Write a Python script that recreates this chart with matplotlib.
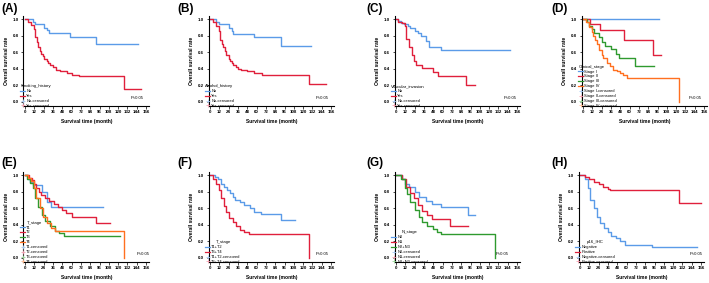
import numpy as np
import matplotlib
matplotlib.use("Agg")
import matplotlib.pyplot as plt
from matplotlib.lines import Line2D

plt.rcParams['font.family'] = ['Liberation Sans', 'DejaVu Sans']

# Kaplan-Meier step curves (time in months, survival rate)
# (A) Smoking_history
a_no_t = [0, 10, 13, 24, 28, 31, 58, 92, 146]
a_no_s = [1.0, 0.97, 0.94, 0.90, 0.87, 0.83, 0.78, 0.70, 0.70]
a_yes_t = [0, 4, 8, 11, 12.5, 15, 17, 19, 21, 23, 25, 28, 30, 32, 36, 40, 45, 54, 60, 69, 128, 150]
a_yes_s = [1.0, 0.97, 0.93, 0.88, 0.78, 0.72, 0.67, 0.62, 0.58, 0.55, 0.52, 0.49, 0.47, 0.45,
           0.42, 0.39, 0.37, 0.35, 0.33, 0.31, 0.155, 0.155]

# (B) Alcohol_history
b_no_t = [0, 8, 12, 25, 28, 30, 57, 92, 130]
b_no_s = [1.0, 0.97, 0.94, 0.90, 0.86, 0.82, 0.78, 0.68, 0.68]
b_yes_t = [0, 4, 8, 11, 13, 15, 17, 19, 21, 24, 26, 28, 30, 33, 36, 40, 47, 56, 67, 128, 150]
b_yes_s = [1.0, 0.97, 0.92, 0.86, 0.75, 0.70, 0.66, 0.62, 0.57, 0.52, 0.49, 0.47, 0.45, 0.42,
           0.40, 0.39, 0.37, 0.35, 0.33, 0.22, 0.22]

# (C) Vascular_invasion
c_no_t = [0, 3, 7, 10, 15, 18, 24, 28, 32, 38, 42, 58, 147]
c_no_s = [1.0, 0.98, 0.96, 0.94, 0.92, 0.89, 0.86, 0.83, 0.80, 0.74, 0.67, 0.63, 0.63]
c_yes_t = [0, 3, 8, 11, 13, 17, 20, 23, 26, 33, 47, 54, 90, 102]
c_yes_s = [1.0, 0.97, 0.95, 0.92, 0.76, 0.66, 0.57, 0.50, 0.45, 0.41, 0.36, 0.31, 0.21, 0.21]

# (D) Clinical_stage
d1_t = [0, 98]
d1_s = [1.0, 1.0]
d2_t = [0, 9, 22, 53, 90, 100]
d2_s = [1.0, 0.94, 0.87, 0.75, 0.57, 0.57]
d3_t = [0, 5, 8, 12, 14, 20, 24, 28, 36, 42, 46, 67, 92]
d3_s = [1.0, 0.97, 0.92, 0.88, 0.83, 0.78, 0.73, 0.68, 0.64, 0.58, 0.53, 0.44, 0.44]
d4_t = [0, 4, 8, 11, 13, 15, 17.5, 21, 24, 26, 31, 35, 39, 44, 48, 52, 57, 124, 124]
d4_s = [1.0, 0.97, 0.91, 0.85, 0.80, 0.75, 0.70, 0.63, 0.57, 0.53, 0.47, 0.43, 0.39, 0.37,
        0.35, 0.32, 0.29, 0.0, 0.0]

# (E) T_stage
e1_t = [0, 4, 6, 10, 22, 28, 33, 100]
e1_s = [1.0, 0.96, 0.92, 0.88, 0.80, 0.68, 0.62, 0.62]
e2_t = [0, 5, 9, 11, 14, 18, 21, 26, 31, 37, 43, 48, 53, 60, 91, 110]
e2_s = [1.0, 0.97, 0.94, 0.90, 0.85, 0.80, 0.76, 0.72, 0.69, 0.65, 0.62, 0.58, 0.54, 0.50, 0.42, 0.42]
e3_t = [0, 3, 7, 10, 13, 17, 22, 26, 32, 38, 44, 50, 123]
e3_s = [1.0, 0.96, 0.91, 0.85, 0.72, 0.62, 0.52, 0.45, 0.38, 0.33, 0.30, 0.27, 0.27]
e4_t = [0, 4, 8, 11, 14, 19, 23, 28, 33, 38, 127, 127]
e4_s = [1.0, 0.97, 0.93, 0.85, 0.72, 0.60, 0.50, 0.42, 0.36, 0.32, 0.0, 0.0]

# (F) T_stage grouped
f1_t = [0, 6, 10, 14, 18, 22, 26, 29, 32, 38, 44, 51, 56, 66, 91, 110]
f1_s = [1.0, 0.98, 0.95, 0.90, 0.86, 0.82, 0.78, 0.74, 0.70, 0.68, 0.64, 0.61, 0.56, 0.53, 0.46, 0.46]
f2_t = [0, 4, 8, 11, 14, 18, 21, 25, 29, 33, 39, 44, 50, 128, 128]
f2_s = [1.0, 0.96, 0.90, 0.82, 0.72, 0.63, 0.55, 0.48, 0.43, 0.38, 0.34, 0.31, 0.29, 0.0, 0.0]

# (G) N_stage
g0_t = [0, 8, 12, 17, 24, 30, 38, 46, 58, 93, 102]
g0_s = [1.0, 0.96, 0.90, 0.86, 0.80, 0.74, 0.69, 0.65, 0.62, 0.52, 0.52]
g1_t = [0, 8, 13, 18, 23, 28, 33, 40, 46, 70, 93]
g1_s = [1.0, 0.95, 0.86, 0.78, 0.72, 0.64, 0.57, 0.52, 0.47, 0.38, 0.38]
g2_t = [0, 7, 12, 14, 18, 24, 29, 34, 40, 48, 53, 58, 127, 127]
g2_s = [1.0, 0.95, 0.85, 0.77, 0.68, 0.58, 0.50, 0.44, 0.39, 0.35, 0.31, 0.29, 0.0, 0.0]

# (H) p16_IHC
h_neg_t = [0, 6, 10, 13, 18, 22, 26, 31, 36, 40, 46, 52, 58, 93, 151]
h_neg_s = [1.0, 0.95, 0.85, 0.70, 0.60, 0.50, 0.42, 0.36, 0.31, 0.27, 0.24, 0.20, 0.16, 0.13, 0.13]
h_pos_t = [0, 6, 12, 18, 24, 30, 36, 38, 128, 156]
h_pos_s = [1.0, 0.98, 0.95, 0.92, 0.89, 0.86, 0.84, 0.82, 0.66, 0.66]

x_ticks = list(range(0, 157, 12))
y_ticks = [0.0, 0.2, 0.4, 0.6, 0.8, 1.0]

BLUE, RED, GREEN, ORANGE = '#5b9be8', '#e0203c', '#2f9a2f', '#ff7020'
LIGHT = {BLUE: '#a9c9f2', RED: '#f2a0b0', GREEN: '#98d498', ORANGE: '#ffbc94'}

W, H = 709, 283
fig = plt.figure(figsize=(W / 100, H / 100), dpi=100)


def make_axes(left_px, bottom_px):
    # pixel box -> figure fraction
    return fig.add_axes([left_px / W, (H - bottom_px) / H, 125.7 / W, 90 / H])


def panel(ax, letter, lx, ly, curves, title, labels, colors, p_x, align):
    for (t, s), c in zip(curves, colors):
        ax.step(t, s, where='post', color=c, lw=1.0)
    ax.set_xlim(-2, 160)
    ax.set_ylim(-0.05, 1.04)
    ax.set_xticks(x_ticks)
    ax.set_yticks(y_ticks)
    ax.set_yticklabels([f'{v:.1f}' for v in y_ticks])
    ax.tick_params(labelsize=3.2, length=1.8, width=0.5, pad=1.2)
    for lab in ax.get_xticklabels() + ax.get_yticklabels():
        lab.set_fontweight('bold')
    for sp in ['top', 'right']:
        ax.spines[sp].set_visible(False)
    for sp in ['left', 'bottom']:
        ax.spines[sp].set_linewidth(0.8)
    ax.set_xlabel('Survival time (month)', fontsize=3.6, fontweight='bold', labelpad=3.5)
    ax.set_ylabel('Overall survival rate', fontsize=3.6, fontweight='bold', labelpad=3)

    handles = [Line2D([], [], color=c, lw=0.9, drawstyle='steps-post') for c in colors]
    handles += [Line2D([], [], color=LIGHT[c], lw=0, marker='+', markersize=2.5, mew=0.6)
                for c in colors]
    names = list(labels) + [f'{n}-censored' for n in labels]
    ax.legend(handles, names, title=title, loc='lower left',
              bbox_to_anchor=(-0.025, -0.02), frameon=False, fontsize=2.9,
              title_fontsize=3.1, handlelength=1.2, handletextpad=0.3,
              labelspacing=0.22, borderpad=0, borderaxespad=0,
              alignment=align)
    ax.text(p_x, 0.02, 'P<0.05', fontsize=3.0, ha='left', va='bottom')
    fig.text(lx / W, 1 - ly / H, letter, fontsize=8.5, fontweight='bold',
             ha='left', va='top')


top_row, bottom_row = 106, 262

panel(make_axes(23.5, top_row), '(A)', 1, 3,
      [(a_no_t, a_no_s), (a_yes_t, a_yes_s)], 'Smoking_history',
      ['No', 'Yes'], [BLUE, RED], 136, 'left')
panel(make_axes(208.5, top_row), '(B)', 177, 3,
      [(b_no_t, b_no_s), (b_yes_t, b_yes_s)], 'Alcohol_history',
      ['No', 'Yes'], [BLUE, RED], 136, 'left')
panel(make_axes(394.5, top_row), '(C)', 366, 3,
      [(c_no_t, c_no_s), (c_yes_t, c_yes_s)], 'Vascular_invasion',
      ['No', 'Yes'], [BLUE, RED], 139, 'left')
panel(make_axes(581.5, top_row), '(D)', 551, 3,
      [(d1_t, d1_s), (d2_t, d2_s), (d3_t, d3_s), (d4_t, d4_s)], 'Clinical_stage',
      ['Stage I', 'Stage II', 'Stage III', 'Stage IV'], [BLUE, RED, GREEN, ORANGE], 136, 'left')

panel(make_axes(23.5, bottom_row), '(E)', 1, 157,
      [(e1_t, e1_s), (e2_t, e2_s), (e3_t, e3_s), (e4_t, e4_s)], 'T_stage',
      ['T1', 'T2', 'T3', 'T4'], [BLUE, RED, GREEN, ORANGE], 144, 'center')
panel(make_axes(208.5, bottom_row), '(F)', 177, 157,
      [(f1_t, f1_s), (f2_t, f2_s)], 'T_stage',
      ['T1+T2', 'T3+T4'], [BLUE, RED], 136, 'center')
panel(make_axes(394.5, bottom_row), '(G)', 366, 157,
      [(g0_t, g0_s), (g1_t, g1_s), (g2_t, g2_s)], 'N_stage',
      ['N0', 'N1', 'N2+N3'], [BLUE, RED, GREEN], 128, 'center')
panel(make_axes(578.5, bottom_row), '(H)', 551, 157,
      [(h_neg_t, h_neg_s), (h_pos_t, h_pos_s)], 'p16_IHC',
      ['Negative', 'Positive'], [BLUE, RED], 141, 'center')

fig.savefig('out.png', dpi=100)
